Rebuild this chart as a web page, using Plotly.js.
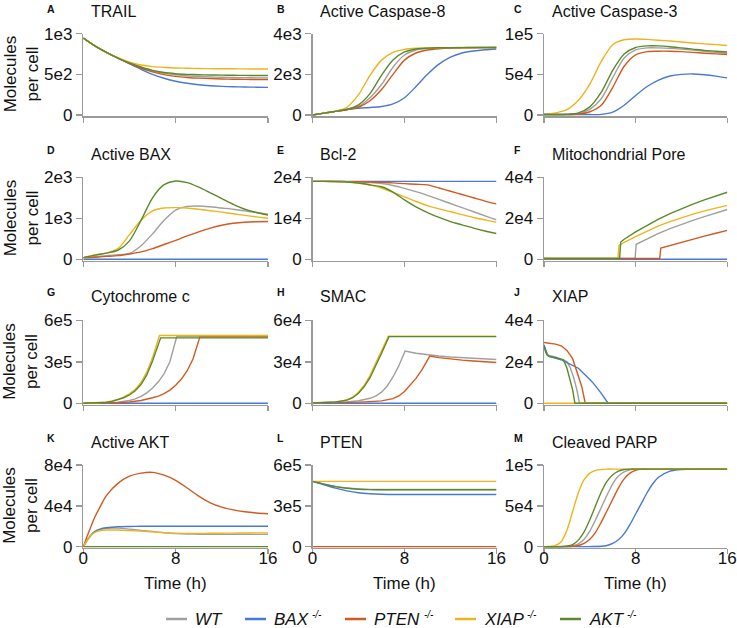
<!DOCTYPE html>
<html><head><meta charset="utf-8">
<script src="https://cdn.plot.ly/plotly-3.0.1.min.js"></script>
<style>html,body{margin:0;padding:0;background:#fff}#chart{width:737px;height:628px}</style>
</head><body><div id="chart"></div>
<script>
// ---------- strains ----------
const strains = ['WT', 'BAX', 'PTEN', 'XIAP', 'AKT'];
const strainSup = ['', '-/-', '-/-', '-/-', '-/-'];
const colors = ['#a0a0a0', '#4a78d2', '#d05a20', '#eeb41e', '#5b8a2a'];

// ---------- time grids ----------
const T1 = [0,1,2,3,4,5,6,7,8,9,10,11,12,13,14,15,16];
const TK = [0,0.5,1,1.5,2,3,4,5,6,7,8,9,10,11,12,13,14,15,16];
const TM = [0,1,1.5,2,2.5,3,3.5,4,4.5,5,5.5,6,6.5,7,7.5,8,8.5,9,9.5,10,11,12,14,16];
const T0 = [0,16];

// ---------- A TRAIL ----------
const trail_WT   = [945,850,770,700,635,580,540,512,495,482,474,468,464,461,459,457,455];
const trail_BAX  = [945,850,770,700,630,562,500,452,415,390,372,360,352,347,344,342,340];
const trail_PTEN = [945,850,770,700,635,575,530,497,475,462,453,447,443,440,438,436,435];
const trail_XIAP = [945,850,770,705,650,615,595,585,578,575,572,570,569,568,567,566,565];
const trail_AKT  = [945,850,770,700,640,590,548,522,508,500,495,492,490,488,487,486,485];

// ---------- B Active Caspase-8 ----------
const c8_WT   = [0,90,180,270,420,850,1500,2350,2950,3200,3270,3295,3305,3310,3315,3320,3320];
const c8_BAX  = [0,90,180,270,330,370,420,550,850,1400,2000,2500,2850,3050,3150,3210,3250];
const c8_PTEN = [0,90,180,260,380,700,1250,2000,2700,3050,3200,3260,3290,3300,3310,3315,3320];
const c8_XIAP = [0,90,190,380,1000,1950,2700,3080,3230,3285,3300,3310,3315,3320,3320,3320,3320];
const c8_AKT  = [0,90,180,280,500,1050,1950,2700,3100,3250,3290,3305,3310,3315,3320,3320,3320];

// ---------- C Active Caspase-3 ----------
const c3_WT   = [500,500,600,1500,7000,20000,46000,70000,80000,82500,82500,82000,81000,79800,78500,77200,76000];
const c3_BAX  = [500,500,500,500,500,700,3500,12000,24000,35000,43000,48000,50000,50500,49500,47800,45600];
const c3_PTEN = [500,500,500,1000,4000,12000,34000,60000,74000,78000,78500,78500,78000,77000,76000,75200,74500];
const c3_XIAP = [500,2500,6500,18000,38000,66000,86500,92500,93500,93000,92000,91000,89800,88600,87500,86500,85500];
const c3_AKT  = [500,500,700,2500,10000,28000,55000,75000,83000,85000,85000,84000,82500,81000,79500,78500,77400];

// ---------- D Active BAX ----------
const bax_WT   = [40,60,90,110,140,330,620,950,1200,1290,1300,1280,1250,1220,1180,1140,1100];
const bax_BAX  = [0,0,0,0,0,0,0,0,0,0,0,0,0,0,0,0,0];
const bax_PTEN = [40,50,70,90,130,180,260,360,460,570,670,760,830,880,905,915,920];
const bax_XIAP = [40,100,150,260,600,950,1180,1250,1260,1250,1220,1185,1150,1110,1070,1035,1000];
const bax_AKT  = [40,100,150,220,450,950,1500,1820,1910,1870,1760,1620,1480,1340,1220,1140,1080];

// ---------- E Bcl-2 ----------
const bcl_WT   = [19000,19000,19000,18950,18850,18700,18450,18000,17300,16500,15600,14600,13600,12600,11600,10600,9600];
const bcl_BAX  = [19000,19000,19000,19000,19000,19000,19000,19000,19000,19000,19000,19000,19000,19000,19000,19000,19000];
const bcl_PTEN = [19000,19000,18990,18950,18900,18850,18750,18640,18450,18300,18150,17400,16600,15800,15000,14200,13500];
const bcl_XIAP = [19000,19000,18950,18850,18600,18100,17400,16300,15200,14100,13100,12300,11600,10900,10200,9600,9000];
const bcl_AKT  = [19000,19000,18950,18850,18600,18150,17700,16400,14500,12800,11400,10200,9200,8400,7600,6900,6300];

// ---------- F Mitochondrial Pore ----------
const pore_WT_t   = [0,7.95,8.05,9,10,11,12,13,14,15,16];
const pore_WT     = [400,400,7300,10000,12600,15000,17100,19000,20800,22600,24300];
const pore_BAX    = [0,0];
const pore_PTEN_t = [0,10.1,10.2,11,12,13,14,15,16];
const pore_PTEN   = [400,400,5500,6800,8300,9800,11300,12700,14100];
const pore_XIAP_t = [0,6.45,6.55,7,8,9,10,11,12,13,14,15,16];
const pore_XIAP   = [400,400,6800,8300,11000,13800,16300,18400,20300,22000,23600,25000,26300];
const pore_AKT_t  = [0,6.6,6.7,7,8,9,10,11,12,13,14,15,16];
const pore_AKT    = [400,400,8400,9800,13400,16700,19600,22300,24700,26900,29000,30900,32700];

// ---------- G Cytochrome c ----------
const cyc_WT_t   = [0,1,2,3,4,4.5,5,5.5,6,6.5,7,7.5,8.1,16];
const cyc_WT     = [0,500,2500,8000,20000,32000,50000,75000,110000,155000,215000,300000,483000,483000];
const cyc_BAX    = [0,0];
const cyc_PTEN_t = [0,2,3,4,5,6,6.5,7,7.5,8,8.5,9,9.5,10.1,16];
const cyc_PTEN   = [0,1000,3500,9000,20000,40000,52000,70000,95000,130000,175000,235000,320000,480000,480000];
const cyc_XIAP_t = [0,1,2,2.5,3,3.5,4,4.5,5,5.5,6,6.6,16];
const cyc_XIAP   = [0,1000,8000,16000,28000,45000,68000,100000,150000,225000,330000,490000,490000];
const cyc_AKT_t  = [0,1,2,2.5,3,3.5,4,4.5,5,5.5,6,6.7,16];
const cyc_AKT    = [0,800,7000,14000,25000,40000,60000,90000,135000,205000,305000,473000,473000];

// ---------- H SMAC ----------
const smac_WT_t   = [0,2,3,4,5,5.5,6,6.5,7,7.5,8.05,9,10,11,12,13,14,15,16];
const smac_WT     = [300,500,900,1800,3600,5200,8000,12500,19000,27000,37700,36200,35000,34200,33500,33000,32500,32100,31700];
const smac_BAX    = [0,0];
const smac_PTEN_t = [0,3,4,5,6,7,7.5,8,8.5,9,9.5,10.2,11,12,13,14,15,16];
const smac_PTEN   = [300,500,800,1200,1700,3300,5300,8500,13000,18000,24000,34100,33000,32000,31200,30600,30000,29500];
const smac_XIAP_t = [0,1,2,2.5,3,3.5,4,4.5,5,5.5,6,6.6,16];
const smac_XIAP   = [300,500,1000,1500,2500,4500,8000,13000,20000,29000,37500,48500,48500];
const smac_AKT_t  = [0,1,2,3,3.5,4,4.5,5,5.5,6,6.65,16];
const smac_AKT    = [300,500,900,2300,4000,7200,12000,18500,27000,36000,48200,48200];

// ---------- J XIAP ----------
const xiap_WT_t   = [0,0.15,0.3,0.5,1,1.5,2,2.3,2.56,2.85,3.1,16];
const xiap_WT     = [27400,25000,23500,22900,22300,21300,20100,17000,12900,7000,0,0];
const xiap_BAX_t  = [0,0.15,0.3,0.5,1,1.5,2,3,4,4.3,5,5.6,16];
const xiap_BAX    = [28200,25500,23300,22500,21800,21000,19600,16900,11500,9700,4800,0,0];
const xiap_PTEN_t = [0,0.5,1,1.5,2,2.5,3,3.3,3.6,16];
const xiap_PTEN   = [29300,29000,28500,27700,25500,21500,13500,8000,0,0];
const xiap_XIAP   = [0,0];
const xiap_AKT_t  = [0,0.15,0.3,0.5,1,1.7,2.0,2.3,2.5,2.7,16];
const xiap_AKT    = [27400,24500,23000,22500,22000,20900,17000,11300,6500,0,0];

// ---------- K Active AKT ----------
const akt_WT   = [0,9000,14500,16800,18000,18200,17200,16000,14800,13700,12800,12400,12200,12100,12000,12000,12000,12000,12000];
const akt_BAX  = [0,9000,15000,17500,18500,19500,19800,20000,20000,20000,20000,20000,20000,20000,20000,20000,20000,20000,20000];
const akt_PTEN = [0,15000,29000,40000,50000,62000,69000,72000,72800,70000,65000,57500,49500,43000,38800,36000,34200,33000,32200];
const akt_XIAP = [0,9000,14000,15800,16300,16300,15800,15200,14500,13800,13200,13000,13000,13100,13200,13300,13400,13500,13500];
const akt_AKT  = [0,0,0,0,0,0,0,0,0,0,0,0,0,0,0,0,0,0,0];

// ---------- L PTEN ----------
const pten_WT   = [480000,470000,460000,450000,442000,431000,424000,421000,420000,420000,420000,420000,420000,420000,420000,420000,420000,420000,420000];
const pten_BAX  = [480000,468000,455000,442000,430000,410000,396000,389000,385000,383500,383000,383000,383000,383000,383000,383000,383000,383000,383000];
const pten_PTEN = [0,0,0,0,0,0,0,0,0,0,0,0,0,0,0,0,0,0,0];
const pten_XIAP = [480000,480000,480000,480000,480000,480000,480000,480000,480000,480000,480000,480000,480000,480000,480000,480000,480000,480000,480000];
const pten_AKT  = [480000,470000,459000,449000,441000,429000,422000,419000,418000,418000,418000,418000,418000,418000,418000,418000,418000,418000,418000];

// ---------- M Cleaved PARP ----------
const parp_WT   = [0,0,0,300,1200,3500,9000,19000,33000,48000,63000,77000,86500,91500,94000,95000,95000,95000,95000,95000,95000,95000,95000,95000];
const parp_BAX  = [0,0,0,0,0,0,0,100,200,500,1500,4000,8500,16000,27000,40000,53000,66000,77000,85000,92500,94500,95000,95000];
const parp_PTEN = [0,0,0,100,500,1500,4000,9000,17500,30000,44000,58000,72000,83000,90000,93500,95000,95000,95000,95000,95000,95000,95000,95000];
const parp_XIAP = [0,1500,6000,20000,43000,66000,82000,90000,93500,94500,95000,95000,95000,95000,95000,95000,95000,95000,95000,95000,95000,95000,95000,95000];
const parp_AKT  = [0,0,200,800,2500,8000,18000,33000,50000,67000,80000,88000,92500,94500,95000,95000,95000,95000,95000,95000,95000,95000,95000,95000];

// ---------- panel definitions ----------
const panels = [
  {letter:'A', title:'TRAIL', max:1000, tt:['0','5e2','1e3'], shape:'spline',
   s:[[T1,trail_WT],[T1,trail_BAX],[T1,trail_PTEN],[T1,trail_XIAP],[T1,trail_AKT]]},
  {letter:'B', title:'Active Caspase-8', max:4000, tt:['0','2e3','4e3'], shape:'spline',
   s:[[T1,c8_WT],[T1,c8_BAX],[T1,c8_PTEN],[T1,c8_XIAP],[T1,c8_AKT]]},
  {letter:'C', title:'Active Caspase-3', max:100000, tt:['0','5e4','1e5'], shape:'spline',
   s:[[T1,c3_WT],[T1,c3_BAX],[T1,c3_PTEN],[T1,c3_XIAP],[T1,c3_AKT]]},
  {letter:'D', title:'Active BAX', max:2000, tt:['0','1e3','2e3'], shape:'spline',
   s:[[T1,bax_WT],[T1,bax_BAX],[T1,bax_PTEN],[T1,bax_XIAP],[T1,bax_AKT]]},
  {letter:'E', title:'Bcl-2', max:20000, tt:['0','1e4','2e4'], shape:'spline',
   s:[[T1,bcl_WT],[T1,bcl_BAX],[T1,bcl_PTEN],[T1,bcl_XIAP],[T1,bcl_AKT]]},
  {letter:'F', title:'Mitochondrial Pore', max:40000, tt:['0','2e4','4e4'], shape:'linear',
   s:[[pore_WT_t,pore_WT],[T0,pore_BAX],[pore_PTEN_t,pore_PTEN],[pore_XIAP_t,pore_XIAP],[pore_AKT_t,pore_AKT]]},
  {letter:'G', title:'Cytochrome c', max:600000, tt:['0','3e5','6e5'], shape:'linear',
   s:[[cyc_WT_t,cyc_WT],[T0,cyc_BAX],[cyc_PTEN_t,cyc_PTEN],[cyc_XIAP_t,cyc_XIAP],[cyc_AKT_t,cyc_AKT]]},
  {letter:'H', title:'SMAC', max:60000, tt:['0','3e4','6e4'], shape:'linear',
   s:[[smac_WT_t,smac_WT],[T0,smac_BAX],[smac_PTEN_t,smac_PTEN],[smac_XIAP_t,smac_XIAP],[smac_AKT_t,smac_AKT]]},
  {letter:'J', title:'XIAP', max:40000, tt:['0','2e4','4e4'], shape:'linear',
   s:[[xiap_WT_t,xiap_WT],[xiap_BAX_t,xiap_BAX],[xiap_PTEN_t,xiap_PTEN],[T0,xiap_XIAP],[xiap_AKT_t,xiap_AKT]]},
  {letter:'K', title:'Active AKT', max:80000, tt:['0','4e4','8e4'], shape:'spline',
   s:[[TK,akt_WT],[TK,akt_BAX],[TK,akt_PTEN],[TK,akt_XIAP],[TK,akt_AKT]]},
  {letter:'L', title:'PTEN', max:600000, tt:['0','3e5','6e5'], shape:'spline',
   s:[[TK,pten_WT],[TK,pten_BAX],[TK,pten_PTEN],[TK,pten_XIAP],[TK,pten_AKT]]},
  {letter:'M', title:'Cleaved PARP', max:100000, tt:['0','5e4','1e5'], shape:'spline',
   s:[[TM,parp_WT],[TM,parp_BAX],[TM,parp_PTEN],[TM,parp_XIAP],[TM,parp_AKT]]}
];

// ---------- layout geometry (pixels) ----------
const W = 737, H = 628;
const px = x => x / W, py = y => 1 - y / H;
const colX = [[83.3, 268], [312.5, 496.5], [544, 727.3]];
const rowY = [[33.7, 115], [177.3, 259.3], [320.3, 403.3], [465, 546.7]];
const letterX = [45, 275, 512];
const titleX = [89, 318, 550];
const letterY = [8.5, 150.5, 292, 437.5];
const titleY = [12, 154, 296, 442];

const FONT = 'Liberation Sans, Arial, Helvetica, sans-serif';
const AXC = '#9a9a9a';

const traces = [];
const layout = {
  width: W, height: H,
  margin: {l: 0, r: 0, t: 0, b: 0},
  paper_bgcolor: '#fff', plot_bgcolor: '#fff',
  showlegend: false,
  font: {family: FONT, size: 17, color: '#111'},
  annotations: [], shapes: []
};

panels.forEach((p, i) => {
  const r = Math.floor(i / 3), c = i % 3;
  const n = i === 0 ? '' : String(i + 1);
  const xa = 'x' + n, ya = 'y' + n;
  p.s.forEach((sv, j) => {
    traces.push({
      x: sv[0], y: sv[1], xaxis: xa, yaxis: ya, type: 'scatter', mode: 'lines',
      line: {color: colors[j], width: 1.4, shape: p.shape, smoothing: 0.8},
      name: strains[j], showlegend: false, hoverinfo: 'skip'
    });
  });
  const bottom = r === 3;
  layout['xaxis' + n] = {
    domain: [px(colX[c][0]), px(colX[c][1])], anchor: ya,
    range: [0, 16], tickvals: [0, 8, 16], ticktext: ['0', '8', '16'],
    showticklabels: bottom, ticks: 'outside', ticklen: 5, tickwidth: 1.5, tickcolor: AXC,
    ticklabelstandoff: -11,
    showline: true, linecolor: AXC, linewidth: 1.5, showgrid: false, zeroline: false,
    tickfont: {size: 17, color: '#111', family: FONT}, fixedrange: true
  };
  layout['yaxis' + n] = {
    domain: [py(rowY[r][1] + 1.2), py(rowY[r][0])], anchor: xa,
    range: [-0.015 * p.max, p.max], tickvals: [0, p.max / 2, p.max], ticktext: p.tt,
    ticks: 'outside', ticklen: 6, tickwidth: 1.5, tickcolor: AXC,
    showline: true, linecolor: AXC, linewidth: 1.5, showgrid: false, zeroline: false,
    tickfont: {size: 17, color: '#111', family: FONT}, fixedrange: true
  };
  layout.annotations.push({
    xref: 'paper', yref: 'paper', x: px(letterX[c]), y: py(letterY[r]),
    xanchor: 'left', yanchor: 'middle', showarrow: false, text: '<b>' + p.letter + '</b>',
    font: {size: 10.5, family: FONT, color: '#111'}
  });
  layout.annotations.push({
    xref: 'paper', yref: 'paper', x: px(titleX[c]), y: py(titleY[r]),
    xanchor: 'left', yanchor: 'middle', showarrow: false, text: p.title,
    font: {size: 16, family: FONT, color: '#111'}
  });
});

// y titles
rowY.forEach(ry => {
  layout.annotations.push({
    xref: 'paper', yref: 'paper', x: px(21), y: py((ry[0] + ry[1]) / 2),
    xanchor: 'center', yanchor: 'middle', showarrow: false, textangle: -90,
    text: 'Molecules<br>per cell', font: {size: 17, family: FONT, color: '#111'}
  });
});
// x titles
colX.forEach(cx => {
  layout.annotations.push({
    xref: 'paper', yref: 'paper', x: px((cx[0] + cx[1]) / 2), y: py(583),
    xanchor: 'center', yanchor: 'middle', showarrow: false,
    text: 'Time (h)', font: {size: 17, family: FONT, color: '#111'}
  });
});

// legend (drawn as shapes + text)
const legLineX = [166, 245, 345, 455, 560];
const legSupX = [0, 310, 422, 525, 625];
const legY = 619;
strains.forEach((s, j) => {
  layout.shapes.push({
    type: 'line', xref: 'paper', yref: 'paper',
    x0: px(legLineX[j]), x1: px(legLineX[j] + 21), y0: py(legY), y1: py(legY),
    line: {color: colors[j], width: 2.5}
  });
  layout.annotations.push({
    xref: 'paper', yref: 'paper', x: px(legLineX[j] + 27), y: py(legY),
    xanchor: 'left', yanchor: 'middle', showarrow: false,
    text: '<i>' + s + '</i>', font: {size: 17, family: FONT, color: '#111'}
  });
  if (strainSup[j]) {
    layout.annotations.push({
      xref: 'paper', yref: 'paper', x: px(legSupX[j]), y: py(legY - 5),
      xanchor: 'left', yanchor: 'middle', showarrow: false,
      text: '<i>' + strainSup[j] + '</i>', font: {size: 10, family: FONT, color: '#111'}
    });
  }
});

Plotly.newPlot('chart', traces, layout, {staticPlot: true, displayModeBar: false});
</script>
</body></html>
